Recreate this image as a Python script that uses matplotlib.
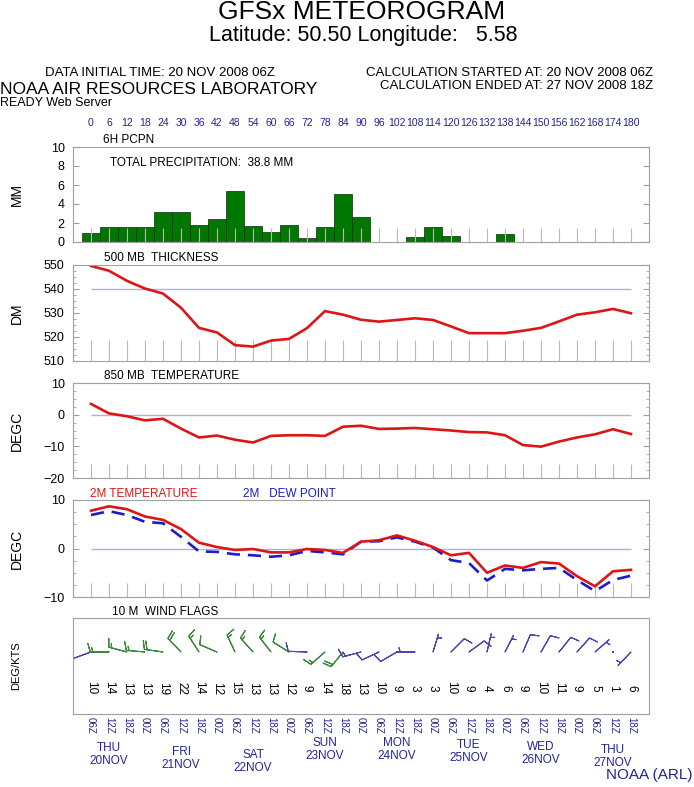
import matplotlib
matplotlib.use('Agg')
import matplotlib.pyplot as plt
import numpy as np
from matplotlib import font_manager
from matplotlib.ticker import MultipleLocator

# forecast steps, every 6 h from 20 NOV 06Z
hours = np.arange(0, 181, 6)
zulu = ['06Z', '12Z', '18Z', '00Z']
days = ['THU', 'FRI', 'SAT', 'SUN', 'MON', 'TUE', 'WED', 'THU']
dates = ['20NOV', '21NOV', '22NOV', '23NOV', '24NOV', '25NOV', '26NOV', '27NOV']

pcpn = [1.0, 1.6, 1.6, 1.6, 3.2, 3.2, 1.8, 2.4, 5.4, 1.7, 1.1, 1.8, 0.4, 1.6,
        5.1, 2.6, 0, 0, 0.5, 1.6, 0.6, 0, 0, 0.8, 0, 0, 0, 0, 0, 0, 0]
thick = [549.6, 547.6, 543.4, 540.2, 538.1, 532.2, 523.8, 521.9, 516.6, 516.0,
         518.5, 519.2, 523.7, 530.8, 529.3, 527.2, 526.4, 527.1, 527.8, 527.1,
         524.4, 521.6, 521.6, 521.6, 522.6, 523.8, 526.5, 529.3, 530.3, 531.7,
         529.9]
t850 = [3.4, 0.4, -0.5, -1.8, -1.3, -4.4, -7.2, -6.6, -7.9, -8.8, -6.7, -6.5,
        -6.5, -6.7, -3.8, -3.5, -4.5, -4.4, -4.2, -4.6, -5.0, -5.5, -5.6, -6.5,
        -9.6, -10.1, -8.5, -7.2, -6.2, -4.6, -6.1]
t2m = [7.8, 8.7, 8.1, 6.6, 5.9, 4.0, 1.2, 0.3, -0.3, -0.1, -0.8, -0.8, -0.1,
       -0.3, -0.9, 1.4, 1.7, 2.7, 1.6, 0.3, -1.4, -0.9, -5.0, -3.5, -4.0, -2.8,
       -3.1, -5.7, -7.8, -4.7, -4.4]
td2m = [6.9, 7.7, 6.9, 5.5, 5.2, 2.4, -0.6, -0.7, -1.2, -1.4, -1.7, -1.4, -0.5,
        -0.8, -1.2, 1.4, 1.5, 2.3, 1.4, 0.2, -2.4, -3.0, -6.6, -4.2, -4.5, -4.2,
        -4.0, -6.5, -8.8, -6.5, -5.6]
wspd = [10, 14, 13, 13, 19, 22, 14, 12, 15, 13, 13, 12, 9, 14, 18, 13, 10, 9,
        3, 3, 10, 9, 4, 6, 9, 10, 11, 9, 5, 1, 6]
wdir = [250, 270, 285, 275, 278, 316, 327, 293, 335, 318, 322, 302, 272, 229,
        219, 255, 245, 240, 270, 17, 45, 54, 13, 27, 23, 30, 39, 42, 49, 143, 224]
wgreen = [0, 1, 1, 1, 1, 1, 1, 1, 1, 1, 1, 1, 0, 1, 1, 0, 0, 0, 0, 0, 0, 0, 0,
          0, 0, 0, 0, 0, 0, 0, 0]

names = {f.name for f in font_manager.fontManager.ttflist}
narrow = 'Liberation Sans Narrow' if 'Liberation Sans Narrow' in names else 'Liberation Sans'
plt.rcParams['font.family'] = ['Liberation Sans', 'DejaVu Sans']

W, H = 694, 787
fig = plt.figure(figsize=(W / 100, H / 100), dpi=100)
navy = '#23239a'
red = '#dd1515'
grey = '#a0a0a0'


def px(x, y):
    return x / W, 1 - y / H


def panel(top, bottom):
    ax = fig.add_axes([73 / W, 1 - bottom / H, 576 / W, (bottom - top) / H])
    ax.set_xlim(-1, 31)
    for s in ax.spines.values():
        s.set_color(grey)
    return ax


def ticks(ax, xlen, major, minor=None):
    ax.set_xticks(np.arange(len(hours)))
    ax.tick_params(axis='x', direction='in', length=xlen, color='#b8b8b8',
                   labelbottom=False)
    ax.yaxis.set_major_locator(MultipleLocator(major))
    if minor:
        ax.yaxis.set_minor_locator(MultipleLocator(minor))
    ax.tick_params(axis='y', which='both', direction='in', left=True, right=True,
                   color=grey, labelsize=9, pad=6)
    ax.tick_params(axis='y', which='major', length=4)
    ax.tick_params(axis='y', which='minor', length=2)


def ylab(ax, text, size=10, xr=24):
    ax.set_ylabel(text, fontsize=size)
    ax.yaxis.set_label_coords((xr - 73) / 576, 0.5)


x = np.arange(len(hours))

# header
fig.text(*px(362, 12), 'GFSx METEOROGRAM', ha='center', va='center', fontsize=19)
fig.text(*px(363, 35), 'Latitude: 50.50 Longitude:   5.58', ha='center',
         va='center', fontsize=15.5)
fig.text(*px(160, 73), 'DATA INITIAL TIME: 20 NOV 2008 06Z', ha='center',
         va='center', fontsize=9.5, family=narrow)
fig.text(*px(653, 73), 'CALCULATION STARTED AT: 20 NOV 2008 06Z', ha='right',
         va='center', fontsize=9.5, family=narrow)
fig.text(*px(653, 86), 'CALCULATION ENDED AT: 27 NOV 2008 18Z', ha='right',
         va='center', fontsize=9.5, family=narrow)
fig.text(*px(0, 90), 'NOAA AIR RESOURCES LABORATORY', ha='left', va='center',
         fontsize=12.5, family=narrow)
fig.text(*px(0, 103), 'READY Web Server', ha='left', va='center', fontsize=9,
         family=narrow)

# 6 h precipitation
ax = panel(147, 242)
vals = np.array(pcpn)
m = vals > 0
ax.bar(x[m], vals[m], width=1.0, color='#007800', edgecolor='#0a2a0a', linewidth=0.5)
ax.set_ylim(0, 10)
ticks(ax, 10, 2)
ylab(ax, 'MM')
for i, h in enumerate(hours):
    ax.text(i, 1.253, str(h), transform=ax.get_xaxis_transform(), ha='center',
            va='center', fontsize=7.5, color=navy)
ax.text(0.052, 1.07, '6H PCPN', transform=ax.transAxes, fontsize=8.5, va='center')
ax.text(0.064, 0.83, 'TOTAL PRECIPITATION:  38.8 MM', transform=ax.transAxes,
        fontsize=8.5, va='center')

# 500 mb thickness
ax = panel(265, 361)
ax.hlines(540, 0, 30, color='#b0b0d8', linewidth=1)
ax.plot(x, thick, color=red, linewidth=1.9)
ax.set_ylim(510, 550)
ticks(ax, 15, 10, 2.5)
ylab(ax, 'DM')
ax.text(0.054, 1.07, '500 MB  THICKNESS', transform=ax.transAxes, fontsize=8.5,
        va='center')

# 850 mb temperature
ax = panel(383, 478)
ax.hlines(0, 0, 30, color='#b0b0d8', linewidth=1)
ax.plot(x, t850, color=red, linewidth=1.9)
ax.set_ylim(-20, 10)
ticks(ax, 10, 10, 2.5)
ylab(ax, 'DEGC')
ax.text(0.054, 1.074, '850 MB  TEMPERATURE', transform=ax.transAxes, fontsize=8.5,
        va='center')

# 2 m temperature and dew point
ax = panel(500, 597)
ax.hlines(0, 0, 30, color='#b0b0d8', linewidth=1)
ax.plot(x, td2m, color='#1c1cc8', linewidth=1.9, dashes=(5, 3))
ax.plot(x, t2m, color=red, linewidth=1.9)
ax.set_ylim(-10, 10)
ticks(ax, 10, 10, 2.5)
ylab(ax, 'DEGC')
ax.text(0.0295, 1.062, '2M TEMPERATURE', transform=ax.transAxes, fontsize=8.5,
        va='center', color=red)
ax.text(0.295, 1.062, '2M   DEW POINT', transform=ax.transAxes, fontsize=8.5,
        va='center', color='#1c1cc8')

# 10 m wind flags
ax = panel(618, 714)
ax.set_ylim(0, 1)
ax.set_xticks([])
ax.set_yticks([])
rad = np.deg2rad(wdir)
u = -np.array(wspd) * np.sin(rad)
v = -np.array(wspd) * np.cos(rad)
cols = ['#3d8a3d' if g else '#4848b0' for g in wgreen]
ax.barbs(x, np.full(len(x), 0.646), u, v, length=5.2, barbcolor=cols,
         flagcolor=cols, linewidth=0.8,
         sizes=dict(emptybarb=0.02, height=0.45, spacing=0.14))
for i, s in enumerate(wspd):
    ax.text(i, 0.27, str(s), rotation=-90, ha='center', va='center', fontsize=8.5)
ylab(ax, 'DEG/KTS', size=8, xr=21)
ax.text(0.068, 1.0625, '10 M  WIND FLAGS', transform=ax.transAxes, fontsize=8.5,
        va='center')

# time axis under the panels
for i in range(len(hours)):
    fig.text(*px(91 + 18 * i, 717), zulu[i % 4], rotation=-90, ha='center',
             va='top', fontsize=7, color=navy)
day_y = [748, 752, 755, 743, 743, 745, 747, 750]
for k in range(len(days)):
    cx = 91 + 18 * (1 + 4 * k)
    fig.text(*px(cx, day_y[k]), days[k], ha='center', va='center', fontsize=8.5,
             color=navy)
    fig.text(*px(cx, day_y[k] + 13), dates[k], ha='center', va='center',
             fontsize=8.5, color=navy)
fig.text(*px(692, 775), 'NOAA (ARL)', ha='right', va='center', fontsize=11,
         color=navy)

fig.savefig('out.png', dpi=100)
